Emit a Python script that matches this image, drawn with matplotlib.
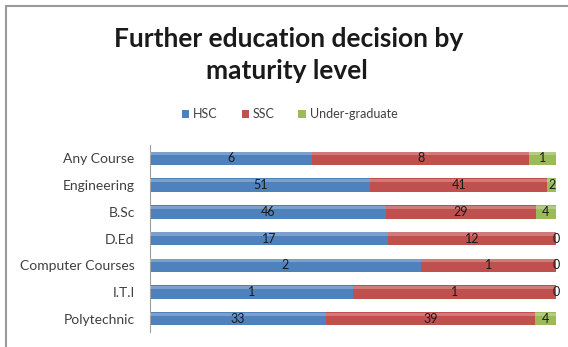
import numpy as np
import matplotlib.pyplot as plt
from matplotlib.patches import Rectangle

courses = ['Any Course', 'Engineering', 'B.Sc', 'D.Ed', 'Computer Courses', 'I.T.I', 'Polytechnic']
hsc = [6, 51, 46, 17, 2, 1, 33]
ssc = [8, 41, 29, 12, 1, 1, 39]
ug = [1, 2, 4, 0, 0, 0, 4]
series_names = ['HSC', 'SSC', 'Under-graduate']
colors = ['#4F81BD', '#C0504D', '#9BBB59']

plt.rcParams['font.family'] = ['Lato', 'DejaVu Sans']

counts = np.array([hsc, ssc, ug], dtype=float)
totals = counts.sum(axis=0)
shares = counts / totals  # 100% stacked

fig = plt.figure(figsize=(5.68, 3.47), dpi=100)
ax = fig.add_axes([0.264, 0.043, 0.715, 0.539])

y = np.arange(len(courses))
left = np.zeros(len(courses))
for k in range(3):
    ax.barh(y, shares[k], left=left, height=0.5, color=colors[k],
            label=series_names[k], zorder=2)
    # lighter band along the top of each bar
    ax.barh(y - 0.17, shares[k], left=left, height=0.12, color='white',
            alpha=0.25, zorder=3, linewidth=0)
    for i in range(len(courses)):
        cx = left[i] + shares[k][i] / 2
        ax.text(cx, y[i], '%d' % counts[k][i], ha='center', va='center',
                fontsize=9, color='#1a1a1a', zorder=4)
    left = left + shares[k]

ax.set_xlim(0, 1)
ax.set_ylim(len(courses) - 0.5, -0.5)
ax.set_yticks(y)
ax.set_yticklabels(courses, fontsize=10, color='#404040')
ax.set_xticks([])
ax.tick_params(axis='y', length=0, pad=11)
for s in ['top', 'right', 'bottom']:
    ax.spines[s].set_visible(False)
ax.spines['left'].set_color('#a0a0a0')

fig.text(0.508, 1 - 39 / 347, 'Further education decision by', ha='center', va='center',
         fontsize=19, fontweight='bold', color='#1a1a1a')
fig.text(0.505, 1 - 71 / 347, 'maturity level', ha='center', va='center',
         fontsize=19, fontweight='bold', color='#1a1a1a')

fig.legend(loc='center', bbox_to_anchor=(0.51, 1 - 114 / 347), ncol=3, frameon=False,
           fontsize=9, handlelength=0.6, handleheight=0.6, handletextpad=0.3,
           columnspacing=1.9, labelcolor='#404040')

# chart frame (left and top edges)
fig.patches.append(Rectangle((6 / 568, -0.1), 1.2, 1 - 6 / 347 + 0.1,
                             transform=fig.transFigure, fill=False,
                             edgecolor='#9a9a9a', linewidth=1.5))

fig.savefig('out.png', dpi=100)
